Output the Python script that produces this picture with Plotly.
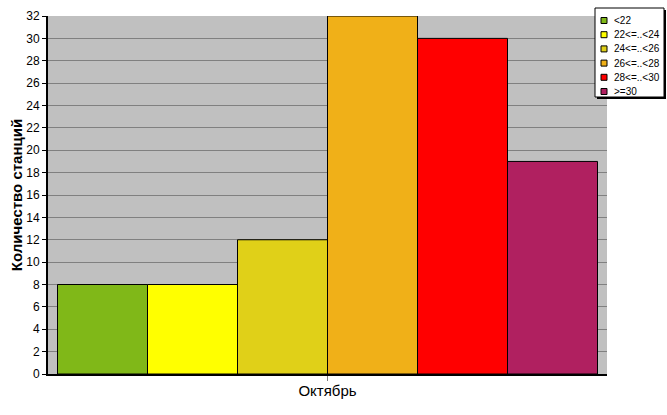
import plotly.graph_objects as go

categories = ["Октябрь"]
series_names = ["<22", "22<=..<24", "24<=..<26", "26<=..<28", "28<=..<30", ">=30"]
series_values = [8, 8, 12, 32, 30, 19]
series_colors = ["#80B818", "#FFFF00", "#E0D018", "#F0B018", "#FF0000", "#B02060"]
y_ticks = list(range(0, 33, 2))

W, H = 667, 415
L, R, T, B = 48, 60, 16, 41
PW, PH = W - L - R, H - T - B

def px(x):  # pixel x -> paper
    return (x - L) / PW

def py(y):  # pixel y -> paper
    return (H - B - y) / PH

fig = go.Figure()
for name, val, col in zip(series_names, series_values, series_colors):
    fig.add_trace(go.Bar(
        x=categories, y=[val], name=name, showlegend=False,
        marker=dict(color=col, line=dict(color="black", width=1)),
    ))

# manual legend (compact, like the original)
shapes = []
annotations = []
lx0, ly0, lx1, ly1 = 595, 8, 664, 97
shapes.append(dict(type="rect", xref="paper", yref="paper",
                   x0=px(lx0 + 2), x1=px(lx1 + 2), y0=py(ly1 + 2), y1=py(ly0 + 2),
                   fillcolor="black", line=dict(width=0), layer="above"))
shapes.append(dict(type="rect", xref="paper", yref="paper",
                   x0=px(lx0), x1=px(lx1), y0=py(ly1), y1=py(ly0),
                   fillcolor="white", line=dict(color="black", width=1), layer="above"))
for i, (name, col) in enumerate(zip(series_names, series_colors)):
    cy = 20.5 + i * 14.2
    shapes.append(dict(type="rect", xref="paper", yref="paper",
                       x0=px(601), x1=px(607), y0=py(cy + 3), y1=py(cy - 3),
                       fillcolor=col, line=dict(color="black", width=1), layer="above"))
    annotations.append(dict(xref="paper", yref="paper", x=px(612), y=py(cy),
                            xanchor="left", yanchor="middle", showarrow=False,
                            text=name, font=dict(size=10, color="black")))

fig.update_layout(
    width=W, height=H,
    margin=dict(l=L, r=R, t=T, b=B, autoexpand=False),
    barmode="group", bargap=0.034, bargroupgap=0,
    plot_bgcolor="#C0C0C0", paper_bgcolor="white",
    font=dict(family="Liberation Sans, Arial, sans-serif", size=12, color="black"),
    showlegend=False,
    shapes=shapes, annotations=annotations,
)
fig.update_yaxes(
    range=[0, 32], tickvals=y_ticks, showgrid=True, gridcolor="#808080", gridwidth=1,
    showline=True, linecolor="black", linewidth=2, ticks="outside", ticklen=4,
    tickcolor="black", zeroline=False, automargin=False,
    title=dict(text="<b>Количество станций</b>", font=dict(size=15), standoff=0),
)
fig.update_xaxes(
    showline=True, linecolor="black", linewidth=2, ticks="outside", ticklen=5,
    tickcolor="#808080", tickfont=dict(size=15), automargin=False,
    ticklabelstandoff=-3,
)
fig.write_html("out.html", post_script="document.body.style.margin='0';",
               config={"displayModeBar": False})
